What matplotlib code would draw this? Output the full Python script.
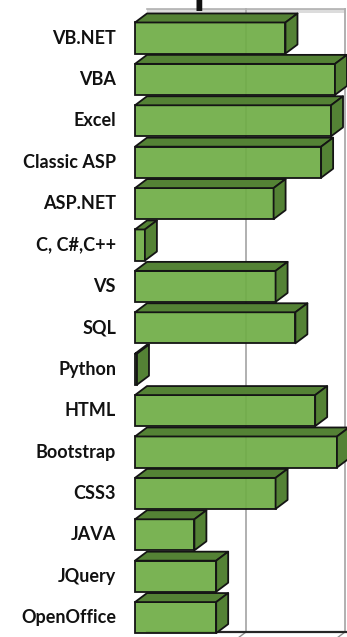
import matplotlib
matplotlib.use("Agg")
import matplotlib.pyplot as plt
from matplotlib.patches import Polygon

skills = ["VB.NET", "VBA", "Excel", "Classic ASP", "ASP.NET", "C, C#,C++", "VS", "SQL",
          "Python", "HTML", "Bootstrap", "CSS3", "JAVA", "JQuery", "OpenOffice"]
levels = [7.6, 10.1, 9.9, 9.4, 7.0, 0.5, 7.1, 8.1, 0.1, 9.1, 10.2, 7.1, 3.0, 4.1, 4.1]
max_level = 10

FRONT = "#70ad47"
SHADE = "#548235"
EDGE = "#141414"
WALL = "#b0b0b0"

W, H = 347, 637
fig = plt.figure(figsize=(W / 100, H / 100), dpi=100)

# front plane of the 3d box, in pixels
x0, x1 = 135, 333
y_top, y_bot = 18, 641
ax = fig.add_axes([x0 / W, 1 - y_bot / H, (x1 - x0) / W, (y_bot - y_top) / H])

step = 41.4  # pixels per category
ax.set_xlim(0, max_level)
ax.set_ylim((y_bot - 38) / step, (y_top - 38) / step)
ax.axis("off")

# depth of the 3d effect in data units
dx = 12 / ((x1 - x0) / max_level)
dy = -9 / step
ylo, yhi = ax.get_ylim()
back_top = yhi + dy
back_bot = ylo + dy

# back wall, gridline and floor ticks
ax.add_patch(Polygon([(dx, back_top), (max_level + dx, back_top), (max_level + dx, back_top - dy * 0.45),
                      (dx, back_top - dy * 0.45)], closed=True, facecolor="#dcdcdc", edgecolor="none",
                     clip_on=False, zorder=0))
ax.plot([dx, max_level + dx], [back_top, back_top], color=WALL, lw=1.2, clip_on=False, zorder=1)
for v in [max_level / 2, max_level]:
    ax.plot([v + dx, v + dx], [back_top, back_bot], color=WALL, lw=1.4, clip_on=False, zorder=1)
    ax.plot([v + dx, v], [back_bot, ylo], color="#8c8c8c", lw=1.0, clip_on=False, zorder=1)
ax.plot([dx, max_level + dx * 1.3], [back_bot, back_bot], color="#262626", lw=1.6, clip_on=False, zorder=1)

# bars: front faces through barh, then top and side faces
h = 0.75
ypos = list(range(len(skills)))
ax.barh(ypos, levels, height=h, color=FRONT, alpha=0.93, edgecolor="none", zorder=3, clip_on=False)
ax.barh(ypos, levels, height=h, fill=False, edgecolor=EDGE, lw=1.3, zorder=4, clip_on=False)
for y, v in zip(ypos, levels):
    t = y - h / 2
    b = y + h / 2
    top = [(0, t), (v, t), (v + dx, t + dy), (dx, t + dy)]
    side = [(v, t), (v + dx, t + dy), (v + dx, b + dy), (v, b)]
    for pts in (top, side):
        ax.add_patch(Polygon(pts, closed=True, facecolor=SHADE, edgecolor=EDGE, lw=1.3,
                             joinstyle="round", zorder=4, clip_on=False))

for y, name in zip(ypos, skills):
    ax.text(-19 / ((x1 - x0) / max_level), y, name, ha="right", va="center",
            fontsize=13, fontweight="bold", family="Lato", color="#111111")

# chart title, mostly cut off above the picture
fig.text(209 / W, 1.0, "p", ha="center", va="baseline", fontsize=46,
         fontweight="normal", family="Lato", color="#111111")

fig.savefig("out.png", dpi=100)
